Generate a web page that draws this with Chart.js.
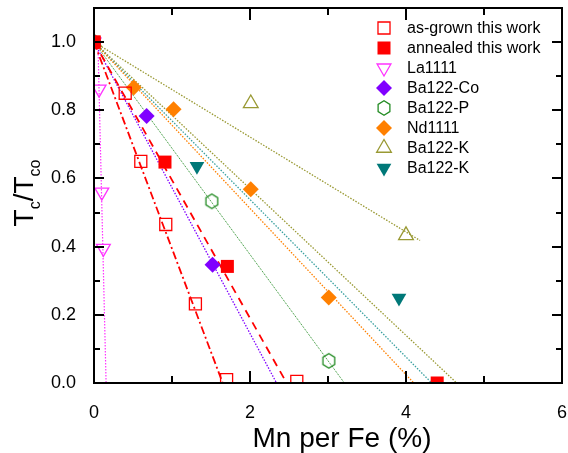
<!DOCTYPE html>
<html>
<head>
<meta charset="utf-8">
<script src="https://cdn.jsdelivr.net/npm/chart.js@4.4.0/dist/chart.umd.min.js"></script>
<style>
  html, body { margin: 0; padding: 0; background: #fff; }
  #wrap { width: 568px; height: 453px; }
</style>
</head>
<body>
<div id="wrap"><canvas id="chart" width="568" height="453"></canvas></div>
<script>
// ---------- Data ----------
const xTicks = [0, 2, 4, 6];
const yTicks = [0, 0.2, 0.4, 0.6, 0.8, 1.0];

const asGrownX = [0, 0.4, 0.6, 0.92, 1.3, 1.7, 2.6];
const asGrownY = [1.0, 0.85, 0.65, 0.465, 0.232, 0.01, 0.005];
const annealedX = [0, 0.91, 1.71, 4.4];
const annealedY = [1.0, 0.648, 0.342, 0.0];
const la1111X = [0, 0.065, 0.1, 0.12];
const la1111Y = [1.0, 0.862, 0.56, 0.395];
const coX = [0, 0.675, 1.52];
const coY = [1.0, 0.783, 0.347];
const pX = [0, 1.51, 3.01];
const pY = [1.0, 0.533, 0.065];
const ndX = [0, 0.51, 1.02, 2.01, 3.01];
const ndY = [1.0, 0.867, 0.803, 0.568, 0.251];
const kOpenX = [0, 2.01, 4.0];
const kOpenY = [1.0, 0.82, 0.433];
const kFillX = [0, 1.32, 3.91];
const kFillY = [1.0, 0.636, 0.249];

// fit lines (start / end)
const fitAsGrownX = [0, 1.65], fitAsGrownY = [1, 0];
const fitAnnealedX = [0, 2.47], fitAnnealedY = [1, 0];
const fitLaX = [0.05, 0.155], fitLaY = [1, 0];
const fitCoX = [0, 2.34], fitCoY = [1, 0];
const fitPX = [0, 3.21], fitPY = [1, 0];
const fitNdX = [0, 4.1], fitNdY = [1, 0];
const fitKOpenX = [0, 4.18], fitKOpenY = [1, 0.418];
const fitKFillX = [0, 4.33], fitKFillY = [1, 0];
const fitOliveX = [0, 4.65], fitOliveY = [1, 0];

// ---------- Colours ----------
const RED = '#ff0000', MAG = '#ff33ff', PUR = '#8000ff', GRN = '#228b22',
      ORG = '#ff8000', OLV = '#999933', TEAL = '#007878';
const FONT = '"Liberation Sans", Arial, sans-serif';

function pts(xs, ys) { return xs.map((x, i) => ({ x: x, y: ys[i] })); }

// hexagon marker
function makeHex(color) {
  const c = document.createElement('canvas');
  c.width = 18; c.height = 18;
  const g = c.getContext('2d');
  g.strokeStyle = color; g.lineWidth = 1.3;
  g.beginPath();
  for (let i = 0; i < 6; i++) {
    const a = Math.PI / 2 + i * Math.PI / 3;
    const px = 9 + 6.8 * Math.cos(a), py = 9 + 7.2 * Math.sin(a);
    if (i === 0) g.moveTo(px, py); else g.lineTo(px, py);
  }
  g.closePath(); g.stroke();
  return c;
}
const hexImg = makeHex(GRN);

function pointSet(label, xs, ys, style, color, filled, radius, rot) {
  return {
    label, data: pts(xs, ys), order: 1,
    pointStyle: style, pointRotation: rot || 0, pointRadius: radius, pointHoverRadius: radius,
    pointBorderColor: color, pointBackgroundColor: filled ? color : 'rgba(0,0,0,0)',
    pointBorderWidth: filled ? 0 : 1.3, showLine: false, isPoints: true,
    legendColor: color, legendFilled: filled
  };
}
function lineSet(xs, ys, color, dash, width) {
  return {
    label: '', data: pts(xs, ys), order: 2, showLine: true, pointRadius: 0,
    borderColor: color, borderWidth: width, borderDash: dash, fill: false
  };
}

const datasets = [
  pointSet('as-grown this work', asGrownX, asGrownY, 'rect', RED, false, 8.5),
  pointSet('annealed this work', annealedX, annealedY, 'rect', RED, true, 9.2),
  pointSet('La1111', la1111X, la1111Y, 'triangle', MAG, false, 8, 180),
  pointSet('Ba122-Co', coX, coY, 'rectRot', PUR, true, 8),
  pointSet('Ba122-P', pX, pY, hexImg, GRN, false, 7),
  pointSet('Nd1111', ndX, ndY, 'rectRot', ORG, true, 8),
  pointSet('Ba122-K', kOpenX, kOpenY, 'triangle', OLV, false, 8.5),
  pointSet('Ba122-K', kFillX, kFillY, 'triangle', TEAL, true, 8.5, 180),
  lineSet(fitAsGrownX, fitAsGrownY, RED, [8, 3, 2, 3], 1.8),
  lineSet(fitAnnealedX, fitAnnealedY, RED, [8, 6], 1.8),
  lineSet(fitLaX, fitLaY, MAG, [1.5, 1.5], 1.2),
  lineSet(fitCoX, fitCoY, PUR, [1.5, 1.5], 1.3),
  lineSet(fitPX, fitPY, GRN, [1, 1], 1),
  lineSet(fitNdX, fitNdY, ORG, [1.5, 1.5], 1.3),
  lineSet(fitKOpenX, fitKOpenY, OLV, [1.5, 1.5], 1.3),
  lineSet(fitKFillX, fitKFillY, '#3aa0a0', [1.5, 1.5], 1.3),
  lineSet(fitOliveX, fitOliveY, OLV, [1.5, 1.5], 1.3)
];

// ---------- Legend marker ----------
function drawMarker(ctx, ds, x, y) {
  const r = ds.pointRadius, c = ds.legendColor;
  ctx.save();
  ctx.fillStyle = c; ctx.strokeStyle = c; ctx.lineWidth = 1.3;
  ctx.beginPath();
  if (ds.pointStyle instanceof HTMLCanvasElement) {
    ctx.drawImage(ds.pointStyle, x - 9, y - 9);
    ctx.restore();
    return;
  } else if (ds.pointStyle === 'rect') {
    const s = r * Math.SQRT1_2;
    ctx.rect(x - s, y - s, 2 * s, 2 * s);
  } else if (ds.pointStyle === 'rectRot') {
    ctx.moveTo(x, y - r); ctx.lineTo(x + r, y); ctx.lineTo(x, y + r); ctx.lineTo(x - r, y);
    ctx.closePath();
  } else if (ds.pointStyle === 'triangle') {
    const sgn = ds.pointRotation === 180 ? -1 : 1;
    const h = r * 1.5, w = r * Math.sqrt(3) / 2;
    ctx.moveTo(x, y - sgn * r);
    ctx.lineTo(x + w, y + sgn * (h - r));
    ctx.lineTo(x - w, y + sgn * (h - r));
    ctx.closePath();
  }
  if (ds.legendFilled) ctx.fill(); else ctx.stroke();
  ctx.restore();
}

// ---------- Frame, ticks, titles, legend ----------
const decorPlugin = {
  id: 'decor',
  afterDraw(chart) {
    const ctx = chart.ctx, a = chart.chartArea;
    const xs = chart.scales.x, ys = chart.scales.y;
    ctx.save();
    ctx.strokeStyle = '#000'; ctx.lineWidth = 2;
    ctx.strokeRect(a.left, a.top, a.right - a.left, a.bottom - a.top);
    ctx.beginPath();
    for (let v = 0; v <= 6; v++) {
      const px = Math.round(xs.getPixelForValue(v));
      const len = v % 2 === 0 ? 12 : 7;
      ctx.moveTo(px, a.bottom); ctx.lineTo(px, a.bottom - len);
      ctx.moveTo(px, a.top); ctx.lineTo(px, a.top + len);
    }
    for (let i = 0; i <= 11; i++) {
      const py = Math.round(ys.getPixelForValue(i / 10));
      const len = i % 2 === 0 ? 10 : 6;
      ctx.moveTo(a.left, py); ctx.lineTo(a.left + len, py);
      ctx.moveTo(a.right, py); ctx.lineTo(a.right - len, py);
    }
    ctx.stroke();

    // x title
    ctx.fillStyle = '#000';
    ctx.font = '28px ' + FONT;
    ctx.textAlign = 'center'; ctx.textBaseline = 'alphabetic';
    ctx.fillText('Mn per Fe (%)', 342, 447);

    // y title with subscripts
    ctx.save();
    ctx.translate(33, 193);
    ctx.rotate(-Math.PI / 2);
    const big = '28px ' + FONT;
    const small = '16px ' + FONT;
    const parts = [['T', big, 0], ['c', small, 7], ['/T', big, 0], ['co', small, 7]];
    let total = 0;
    parts.forEach(p => { ctx.font = p[1]; total += ctx.measureText(p[0]).width; });
    let cx = -total / 2;
    ctx.textAlign = 'left';
    parts.forEach(p => {
      ctx.font = p[1];
      ctx.fillText(p[0], cx, p[2]);
      cx += ctx.measureText(p[0]).width;
    });
    ctx.restore();

    // legend
    ctx.font = '16px ' + FONT;
    ctx.textAlign = 'left'; ctx.textBaseline = 'middle';
    let row = 0;
    chart.data.datasets.forEach(ds => {
      if (!ds.isPoints) return;
      const y = 28 + row * 20;
      drawMarker(ctx, ds, 384, y);
      ctx.fillStyle = '#000';
      ctx.fillText(ds.label, 407, y + 1);
      row++;
    });
    ctx.restore();
  }
};

new Chart(document.getElementById('chart'), {
  type: 'scatter',
  data: { datasets },
  options: {
    responsive: false,
    animation: false,
    layout: { autoPadding: false, padding: { top: 8, right: 6, left: 0, bottom: 0 } },
    plugins: { legend: { display: false }, tooltip: { enabled: false } },
    scales: {
      x: {
        type: 'linear', min: 0, max: 6,
        grid: { display: false }, border: { display: false },
        afterFit(s) { s.height = 70; s.paddingLeft = 0; s.paddingRight = 0; },
        afterBuildTicks(s) { s.ticks = xTicks.map(v => ({ value: v })); },
        ticks: {
          color: '#000', padding: 11,
          font: { size: 18, family: FONT },
          callback: v => String(v)
        }
      },
      y: {
        type: 'linear', min: 0, max: 1.1,
        grid: { display: false }, border: { display: false },
        afterFit(s) { s.width = 94; s.paddingTop = 0; s.paddingBottom = 0; },
        afterBuildTicks(s) { s.ticks = yTicks.map(v => ({ value: v })); },
        ticks: {
          color: '#000', padding: 10,
          font: { size: 18, family: FONT },
          callback: v => Number(v).toFixed(1)
        }
      }
    }
  },
  plugins: [decorPlugin]
});
</script>
</body>
</html>
